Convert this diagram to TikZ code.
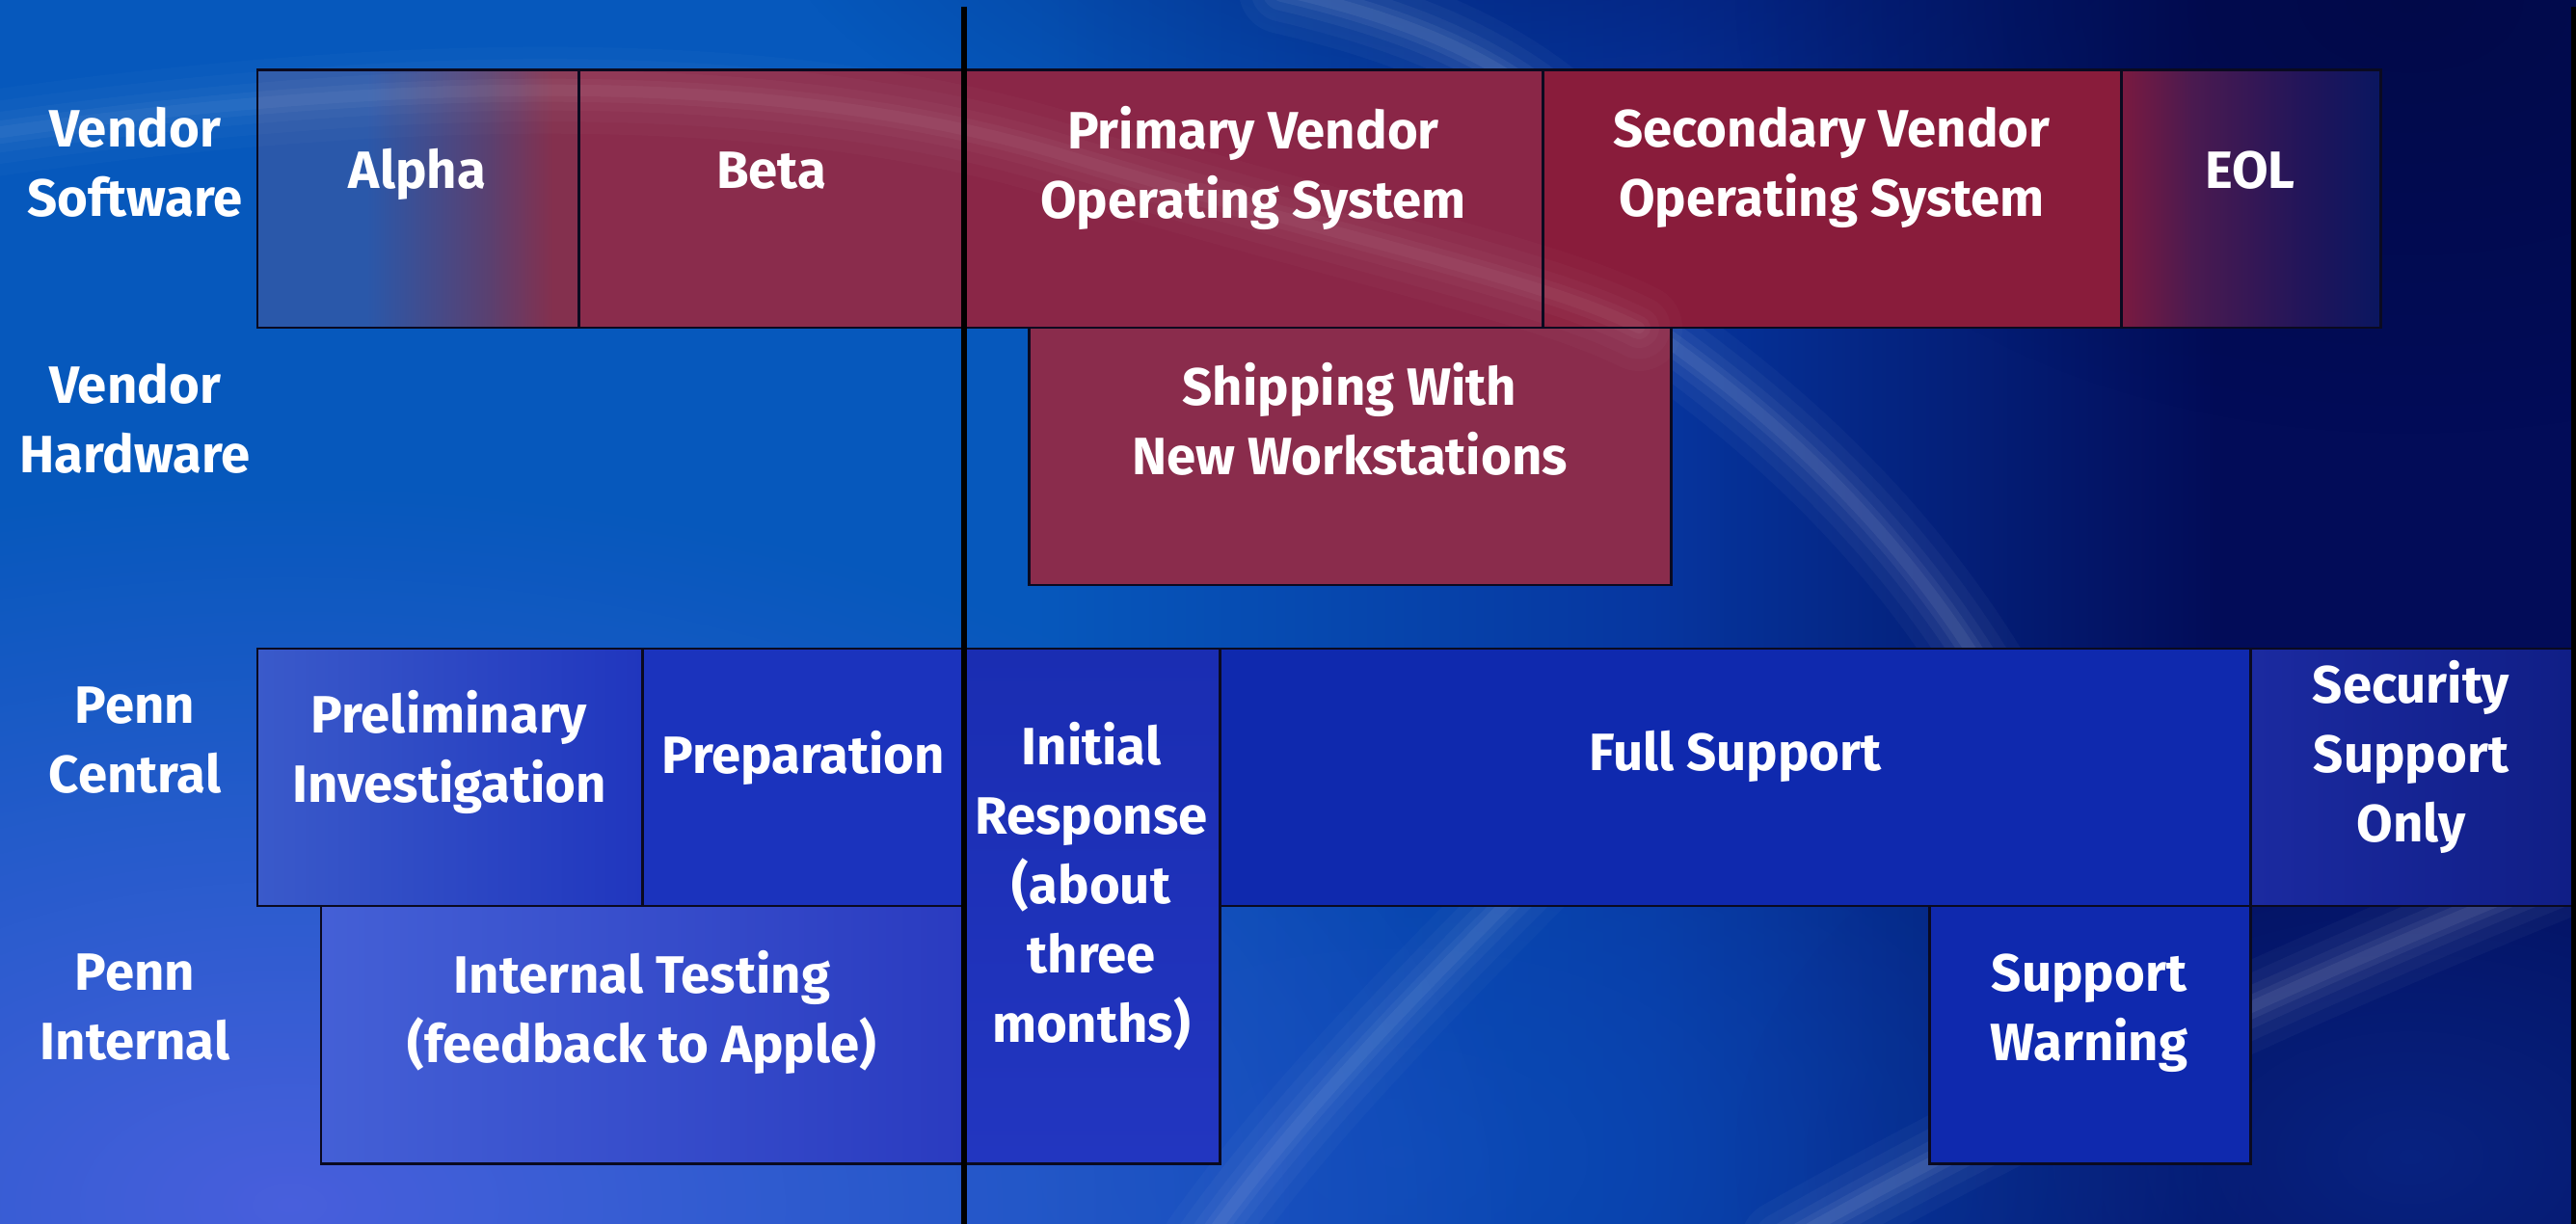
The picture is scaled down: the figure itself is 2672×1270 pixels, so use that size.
\documentclass[tikz,border=0pt]{standalone}
\usepackage{fontspec}
\setmainfont{Fira Sans}
\usetikzlibrary{calc,fadings}
\definecolor{bgL}{HTML}{0658BC}
\definecolor{bgM}{HTML}{0636A0}
\definecolor{bgR}{HTML}{020C58}
\definecolor{bgLL}{HTML}{5060E0}
\definecolor{bgMid}{HTML}{0C4CB8}
\definecolor{bgBR}{HTML}{0A2C92}
\definecolor{bgTR}{HTML}{010840}
\definecolor{redA}{HTML}{8A2C4C}
\definecolor{redB}{HTML}{8A2647}
\definecolor{redC}{HTML}{891C3B}
\definecolor{blueA}{HTML}{1B33BD}
\definecolor{blueB}{HTML}{0F29AE}
\definecolor{prelA}{HTML}{3A5ACA}
\definecolor{prelB}{HTML}{2036BE}
\definecolor{initA}{HTML}{1A2DB2}
\definecolor{initB}{HTML}{2236C0}
\definecolor{secA}{HTML}{1B2AA0}
\definecolor{secB}{HTML}{101E86}
\definecolor{intA}{HTML}{4460D6}
\definecolor{intB}{HTML}{2A3BC0}
\definecolor{alphaA}{HTML}{2A58AA}
\definecolor{alphaB}{HTML}{5A4070}
\definecolor{alphaC}{HTML}{84304E}
\definecolor{eolA}{HTML}{7A1A40}
\definecolor{eolB}{HTML}{4A1A50}
\definecolor{eolC}{HTML}{22155A}
\definecolor{eolD}{HTML}{0A1660}
\definecolor{boxedge}{HTML}{0A0A20}
\pgfdeclarehorizontalshading{alphash}{100bp}{color(0bp)=(alphaA); color(25bp)=(alphaA); color(42bp)=(alphaA); color(61bp)=(alphaB); color(71bp)=(alphaC); color(100bp)=(alphaC)}
\pgfdeclarehorizontalshading{eolsh}{100bp}{color(0bp)=(eolA); color(25bp)=(eolA); color(39bp)=(eolB); color(60bp)=(eolC); color(75bp)=(eolD); color(100bp)=(eolD)}
\pgfdeclarehorizontalshading{bgsh}{100bp}{color(0bp)=(bgL); color(25bp)=(bgL); color(45bp)=(bgL); color(57bp)=(bgM); color(68bp)=(bgR); color(100bp)=(bgR)}
\tikzfading[name=softspot, inner color=transparent!0, outer color=transparent!100]
\newcommand\lblfont{\fontsize{15.5}{20.5}\selectfont\bfseries}
\newcommand\glowpath[2]{%
  \foreach \w/\o in {90/0.025,65/0.03,42/0.035,24/0.045,12/0.05}{%
    \draw[white,opacity=\o*#1,line width=\w*0.2845pt,line cap=round] #2;}}
\tikzset{
  boxline/.style={draw=boxedge, line width=0.85pt},
  lbl/.style={text=white, align=center, font=\lblfont, inner sep=0pt,
    execute at begin node=\strut, execute at end node=\strut},
  bar/.style={draw=black, line width=1.7pt},
}
\begin{document}
\begin{tikzpicture}[x=0.01cm,y=-0.01cm]
\useasboundingbox (0,0) rectangle (2672,1270);
% background
\shade[shading=bgsh] (0,0) rectangle (2672,1270);
\fill[bgMid, path fading=softspot, fill opacity=0.85] (1450,1200) ellipse [x radius=900, y radius=520];
\fill[bgBR, path fading=softspot, fill opacity=0.7] (2500,1200) ellipse [x radius=700, y radius=450];
\fill[bgLL, path fading=softspot, fill opacity=0.9] (300,1250) ellipse [x radius=1300, y radius=750];
\fill[bgR, path fading=softspot, fill opacity=0.5] (1600,-100) ellipse [x radius=800, y radius=320];
\fill[bgTR, path fading=softspot, fill opacity=0.6] (2500,0) ellipse [x radius=700, y radius=450];
% background swooshes (behind boxes)
\glowpath{1.2}{(1330,-10) .. controls (1500,30) and (1600,80) .. (1700,200)}
\glowpath{1.2}{(1680,320) .. controls (1800,400) and (1950,520) .. (2060,700) .. controls (2100,780) and (2120,840) .. (2130,900)}
\glowpath{1.2}{(1850,1290) .. controls (2150,1120) and (2450,990) .. (2700,890)}
\glowpath{1.0}{(1620,880) .. controls (1480,1020) and (1350,1150) .. (1250,1290)}
% box fills
\shade[shading=alphash] (267,73) rectangle (600,340);
\fill[redA] (600,73) rectangle (1000,340);
\fill[redB] (1000,73) rectangle (1600,340);
\fill[redC] (1600,73) rectangle (2200,340);
\shade[shading=eolsh] (2200,73) rectangle (2469,340);
\fill[redA] (1067,340) rectangle (1733,607);
\shade[left color=prelA, right color=prelB] (267,673) rectangle (666,940);
\fill[blueA] (666,673) rectangle (1000,940);
\shade[top color=initA, bottom color=initB] (1000,673) rectangle (1265,1207);
\fill[blueB] (1265,673) rectangle (2334,940);
\shade[left color=secA, right color=secB] (2334,673) rectangle (2668,940);
\shade[left color=intA, right color=intB] (333,940) rectangle (1000,1207);
\fill[blueB] (2001,940) rectangle (2334,1207);
% swoosh passing over the top row
\glowpath{0.8}{(-20,140) .. controls (400,80) and (800,70) .. (1100,160) .. controls (1400,250) and (1600,290) .. (1700,340)}
% box outlines
\draw[boxline] (267,73) rectangle (600,340);
\draw[boxline] (600,73) rectangle (1000,340);
\draw[boxline] (1000,73) rectangle (1600,340);
\draw[boxline] (1600,73) rectangle (2200,340);
\draw[boxline] (2200,73) rectangle (2469,340);
\draw[boxline] (1067,340) rectangle (1733,607);
\draw[boxline] (267,673) rectangle (666,940);
\draw[boxline] (666,673) rectangle (1000,940);
\draw[boxline] (1000,673) rectangle (1265,1207);
\draw[boxline] (1265,673) rectangle (2334,940);
\draw[boxline] (2334,673) rectangle (2668,940);
\draw[boxline] (333,940) rectangle (1000,1207);
\draw[boxline] (2001,940) rectangle (2334,1207);
% vertical bars
\coordinate (ltop) at (1000,7);
\coordinate (lbot) at (1000,1272);
\draw[bar] (ltop) -- (lbot);
\coordinate (rtop) at (2670,7);
\coordinate (rbot) at (2670,1272);
\draw[draw=black, line width=1.5pt] (rtop) -- (rbot);
% row labels
\node[lbl] (vs) at (140,179) {Vendor\\Software};
\node[lbl] (vh) at (140,445) {Vendor\\Hardware};
\node[lbl] (pc) at (140,778) {Penn\\Central};
\node[lbl] (pi) at (140,1055) {Penn\\Internal};
% box texts
\node[lbl] (alpha) at (433,181) {Alpha};
\node[lbl] (beta) at (800,181) {Beta};
\node[lbl] (prim) at (1300,179) {Primary Vendor\\Operating System};
\node[lbl] (sec) at (1900,179) {Secondary Vendor\\Operating System};
\node[lbl] (eol) at (2334,181) {EOL};
\node[lbl] (ship) at (1400,445) {Shipping With\\New Workstations};
\node[lbl] (prel) at (466,785) {Preliminary\\Investigation};
\node[lbl] (prep) at (833,788) {Preparation};
\node[lbl] (init) at (1132,926) {Initial\\Response\\(about\\three\\months)};
\node[lbl] (full) at (1800,785) {Full Support};
\node[lbl] (secu) at (2501,790) {Security\\Support\\Only};
\node[lbl] (intt) at (666,1055) {Internal Testing\\(feedback to Apple)};
\node[lbl] (warn) at (2167,1056) {Support\\Warning};
\end{tikzpicture}
\end{document}
